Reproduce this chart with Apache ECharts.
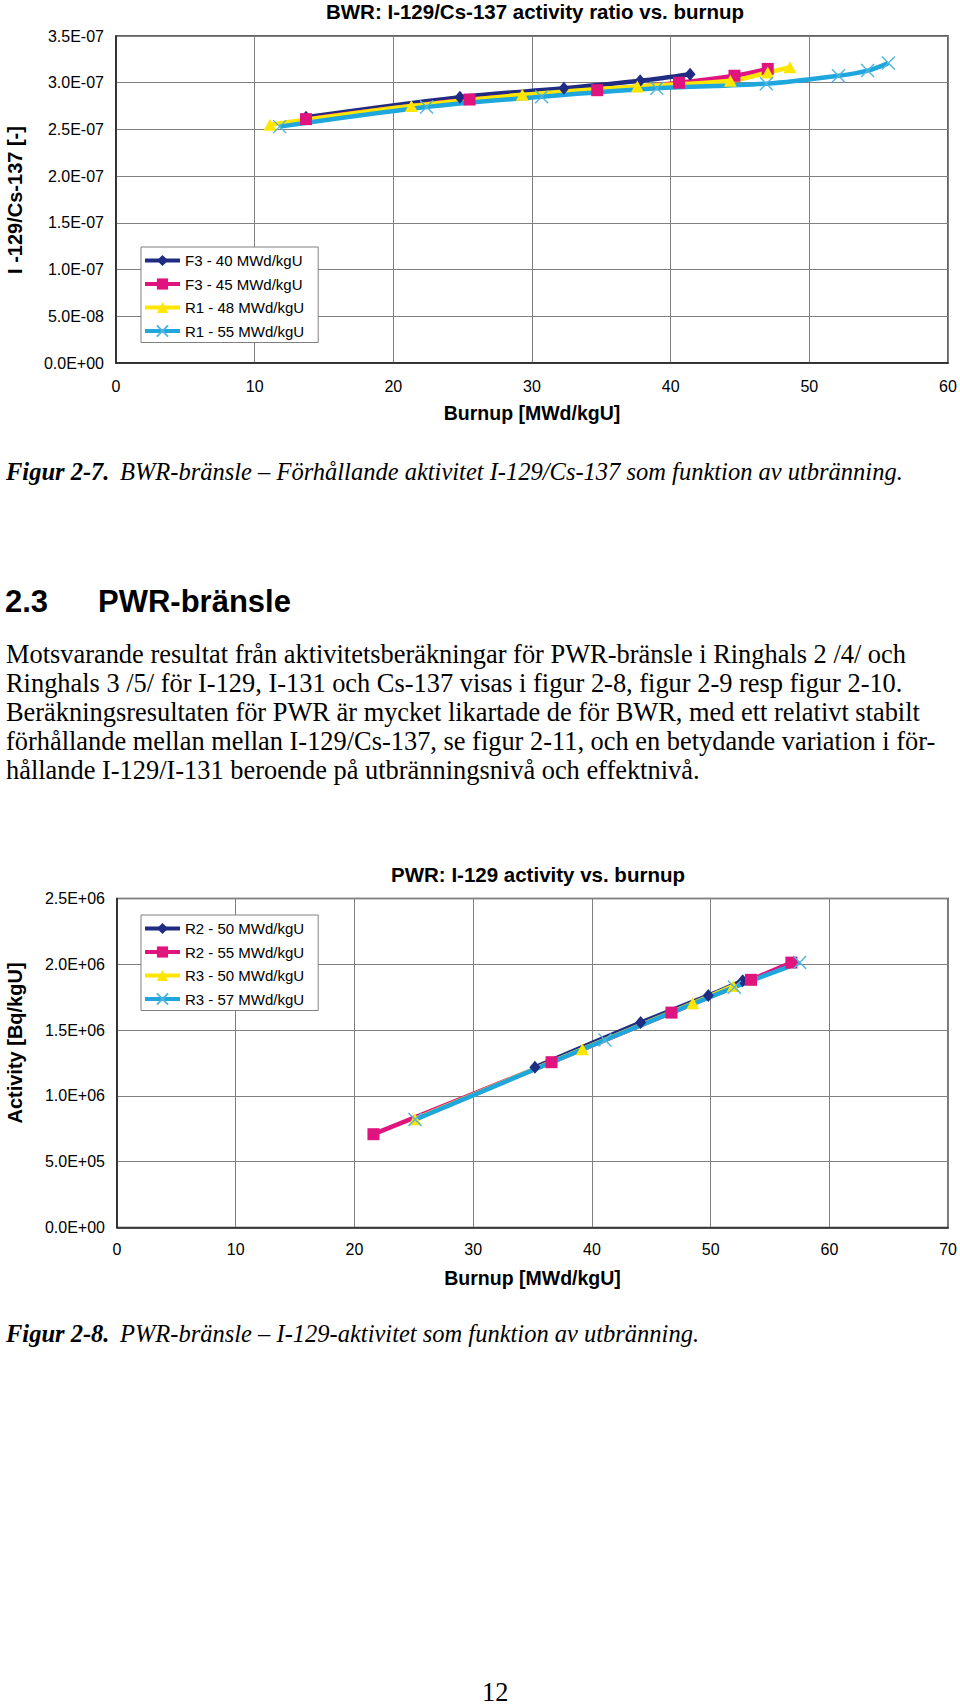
<!DOCTYPE html>
<html>
<head>
<meta charset="utf-8">
<script src="https://cdn.jsdelivr.net/npm/echarts@6/dist/echarts.min.js"></script>
<style>
body { margin: 0; background: #fff; }
#page { position: relative; width: 960px; height: 1707px; overflow: hidden; background: #fff; color: #000;
        font-family: "Liberation Serif", "Times New Roman", serif; }
.abs { position: absolute; white-space: nowrap; }
#bwr { position: absolute; left: 0; top: 0; width: 960px; height: 440px; }
#pwr { position: absolute; left: 0; top: 850px; width: 960px; height: 450px; }
.cap { font-size: 24.5px; line-height: 28px; font-style: italic; }
.cap b { font-weight: bold; }
.head { font-family: "Liberation Sans", Arial, sans-serif; font-weight: bold; font-size: 31px; line-height: 36px; }
.para { left: 6px; font-size: 26.4px; line-height: 29px; }
.pageno { font-size: 26.4px; line-height: 24px; }
</style>
</head>
<body>
<div id="page">
  <div id="bwr"></div>

  <div class="abs cap" style="left:6px; top:458px;"><b>Figur 2-7.</b></div>
  <div class="abs cap" style="left:120px; top:458px;">BWR-bränsle – Förhållande aktivitet I-129/Cs-137 som funktion av utbränning.</div>

  <div class="abs head" style="left:5px; top:584px;">2.3</div>
  <div class="abs head" style="left:98px; top:584px;">PWR-bränsle</div>

  <div class="abs para" style="top:640px;">Motsvarande resultat från aktivitetsberäkningar för PWR-bränsle i Ringhals 2 /4/ och</div>
  <div class="abs para" style="top:669px;">Ringhals 3 /5/ för I-129, I-131 och Cs-137 visas i figur 2-8, figur 2-9 resp figur 2-10.</div>
  <div class="abs para" style="top:698px;">Beräkningsresultaten för PWR är mycket likartade de för BWR, med ett relativt stabilt</div>
  <div class="abs para" style="top:727px;">förhållande mellan mellan I-129/Cs-137, se figur 2-11, och en betydande variation i för-</div>
  <div class="abs para" style="top:756px;">hållande I-129/I-131 beroende på utbränningsnivå och effektnivå.</div>

  <div id="pwr"></div>

  <div class="abs cap" style="left:6px; top:1320px;"><b>Figur 2-8.</b></div>
  <div class="abs cap" style="left:120px; top:1320px;">PWR-bränsle – I-129-aktivitet som funktion av utbränning.</div>

  <div class="abs pageno" style="left:482px; top:1680px;">12</div>
</div>

<script>
// ---- BWR: I-129/Cs-137 activity ratio vs burnup ----
const bwrNames = ['F3 - 40 MWd/kgU', 'F3 - 45 MWd/kgU', 'R1 - 48 MWd/kgU', 'R1 - 55 MWd/kgU'];
const bwrF340Burnup = [13.7, 24.8, 32.3, 37.8, 41.4];
const bwrF340Ratio = [2.63e-7, 2.845e-7, 2.94e-7, 3.02e-7, 3.09e-7];
const bwrF345Burnup = [13.7, 25.5, 34.7, 40.6, 44.6, 47.0];
const bwrF345Ratio = [2.61e-7, 2.82e-7, 2.92e-7, 3.0e-7, 3.075e-7, 3.148e-7];
const bwrR148Burnup = [11.1, 21.3, 29.3, 37.6, 44.3, 47.0, 48.6];
const bwrR148Ratio = [2.55e-7, 2.75e-7, 2.87e-7, 2.96e-7, 3.02e-7, 3.11e-7, 3.165e-7];
const bwrR155Burnup = [11.8, 22.4, 30.7, 39.0, 46.9, 52.1, 54.2, 55.7];
const bwrR155Ratio = [2.53e-7, 2.74e-7, 2.85e-7, 2.94e-7, 2.99e-7, 3.075e-7, 3.13e-7, 3.21e-7];
const bwrXLabels = ['0', '10', '20', '30', '40', '50', '60'];
const bwrYLabels = ['0.0E+00', '5.0E-08', '1.0E-07', '1.5E-07', '2.0E-07', '2.5E-07', '3.0E-07', '3.5E-07'];

// ---- PWR: I-129 activity vs burnup ----
const pwrNames = ['R2 - 50 MWd/kgU', 'R2 - 55 MWd/kgU', 'R3 - 50 MWd/kgU', 'R3 - 57 MWd/kgU'];
const pwrR250Burnup = [35.2, 44.1, 49.8, 52.7];
const pwrR250Activity = [1.218e6, 1.557e6, 1.762e6, 1.875e6];
const pwrR255Burnup = [21.6, 36.6, 46.7, 53.4, 56.8];
const pwrR255Activity = [7.09e5, 1.256e6, 1.633e6, 1.882e6, 2.013e6];
const pwrR350Burnup = [25.1, 39.2, 48.5, 51.9];
const pwrR350Activity = [8.23e5, 1.355e6, 1.704e6, 1.836e6];
const pwrR357Burnup = [25.1, 41.1, 52.0, 57.5];
const pwrR357Activity = [8.2e5, 1.425e6, 1.826e6, 2.013e6];
const pwrXLabels = ['0', '10', '20', '30', '40', '50', '60', '70'];
const pwrYLabels = ['0.0E+00', '5.0E+05', '1.0E+06', '1.5E+06', '2.0E+06', '2.5E+06'];

const sans = '"Liberation Sans", Arial, sans-serif';
const colors = ['#1f2c82', '#e0147e', '#ffe600', '#1fa6dc'];
const crossPath = 'path://M0,0L10,10M10,0L0,10';
const symbols = ['diamond', 'rect', 'triangle', crossPath];
const symbolSizes = [[11, 13], 12, [13, 12], 13];

function makeSeries(name, xs, ys, idx, smooth) {
    const isCross = idx === 3;
    return {
        type: 'line',
        name: name,
        data: xs.map((x, i) => [x, ys[i]]),
        smooth: smooth,
        symbol: symbols[idx],
        symbolSize: symbolSizes[idx],
        showAllSymbol: true,
        lineStyle: { color: colors[idx], width: 4.5 },
        itemStyle: isCross
            ? { color: '#4fb5de', borderColor: '#4fb5de', borderWidth: 1.4 }
            : { color: colors[idx], borderWidth: 0 },
        emphasis: { disabled: true }
    };
}

function buildOption(cfg) {
    return {
        animation: false,
        textStyle: { fontFamily: sans },
        title: {
            text: cfg.title, left: cfg.titleX, top: cfg.titleTop, textAlign: 'center', padding: 0,
            textStyle: { fontSize: 20.5, fontWeight: 'bold', color: '#000', fontFamily: sans }
        },
        grid: {
            left: cfg.left, top: cfg.top, width: cfg.width, height: cfg.height,
            show: true, borderColor: '#303030', borderWidth: 1.5, backgroundColor: 'transparent'
        },
        legend: {
            orient: 'vertical', left: cfg.legendLeft, top: cfg.legendTop,
            backgroundColor: '#fff', borderColor: '#808080', borderWidth: 1, borderRadius: 0,
            padding: [6, 14, 4, 2], itemGap: 8.5, itemWidth: 35, itemHeight: 14,
            lineStyle: { width: 4 },
            textStyle: { fontSize: 15, color: '#000', fontFamily: sans },
            data: cfg.names
        },
        xAxis: {
            type: 'value', min: 0, max: cfg.xMax, interval: 10,
            name: 'Burnup [MWd/kgU]', nameLocation: 'middle', nameGap: 40,
            nameTextStyle: { fontSize: 19.5, fontWeight: 'bold', color: '#000', fontFamily: sans },
            axisLine: { show: true, lineStyle: { color: '#202020', width: 1.5 } },
            axisTick: { show: false },
            axisLabel: { margin: cfg.xLabelMargin, fontSize: 16, color: '#000', formatter: (v, i) => cfg.xLabels[i] },
            splitLine: { show: true, lineStyle: { color: '#808080', width: 1 } }
        },
        yAxis: {
            type: 'value', min: 0, max: cfg.yMax, interval: cfg.yStep,
            axisLine: { show: true, lineStyle: { color: '#202020', width: 1.5 } },
            axisTick: { show: false },
            axisLabel: { margin: 12, fontSize: 16, color: '#000', formatter: (v, i) => cfg.yLabels[i] },
            splitLine: { show: true, lineStyle: { color: '#808080', width: 1 } }
        },
        graphic: [{
            type: 'text', x: 15, y: cfg.yNameY, rotation: Math.PI / 2,
            style: {
                text: cfg.yName, fill: '#000', align: 'center', verticalAlign: 'middle',
                font: 'bold 20px "Liberation Sans", Arial, sans-serif'
            }
        }],
        series: cfg.series
    };
}

const bwrChart = echarts.init(document.getElementById('bwr'), null, { renderer: 'svg' });
bwrChart.setOption(buildOption({
    title: 'BWR: I-129/Cs-137 activity ratio vs. burnup', titleX: 535, titleTop: 1,
    left: 116, top: 36, width: 832, height: 327,
    legendLeft: 141, legendTop: 247, names: bwrNames,
    xMax: 60, xLabels: bwrXLabels, xLabelMargin: 15,
    yMax: 3.5e-7, yStep: 5e-8, yLabels: bwrYLabels,
    yName: 'I -129/Cs-137 [-]', yNameY: 200,
    series: [
        makeSeries(bwrNames[0], bwrF340Burnup, bwrF340Ratio, 0, 0.35),
        makeSeries(bwrNames[1], bwrF345Burnup, bwrF345Ratio, 1, 0.35),
        makeSeries(bwrNames[2], bwrR148Burnup, bwrR148Ratio, 2, 0.35),
        makeSeries(bwrNames[3], bwrR155Burnup, bwrR155Ratio, 3, 0.35)
    ]
}));

const pwrChart = echarts.init(document.getElementById('pwr'), null, { renderer: 'svg' });
pwrChart.setOption(buildOption({
    title: 'PWR: I-129 activity vs. burnup', titleX: 538, titleTop: 14,
    left: 117, top: 48.5, width: 832, height: 329,
    legendLeft: 141, legendTop: 65, names: pwrNames,
    xMax: 70, xLabels: pwrXLabels, xLabelMargin: 14,
    yMax: 2.5e6, yStep: 5e5, yLabels: pwrYLabels,
    yName: 'Activity [Bq/kgU]', yNameY: 193,
    series: [
        makeSeries(pwrNames[0], pwrR250Burnup, pwrR250Activity, 0, 0.2),
        makeSeries(pwrNames[1], pwrR255Burnup, pwrR255Activity, 1, 0.2),
        makeSeries(pwrNames[2], pwrR350Burnup, pwrR350Activity, 2, 0.2),
        makeSeries(pwrNames[3], pwrR357Burnup, pwrR357Activity, 3, 0.2)
    ]
}));
</script>
</body>
</html>
